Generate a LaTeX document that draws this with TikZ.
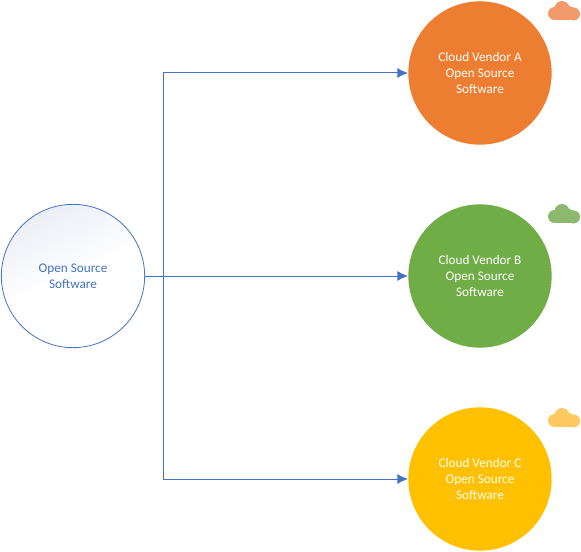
\documentclass[tikz,border=0pt]{standalone}
\usepackage{fontspec}
\setmainfont{Carlito}
\usepackage{xcolor}
\definecolor{linkblue}{HTML}{4472C4}
\definecolor{vendorA}{HTML}{ED7D31}
\definecolor{vendorB}{HTML}{70AD47}
\definecolor{vendorC}{HTML}{FFC000}
\definecolor{cloudA}{HTML}{F29A6B}
\definecolor{cloudB}{HTML}{8DB96F}
\definecolor{cloudC}{HTML}{FFC95F}
\definecolor{sourcetint}{HTML}{ECEEF6}
\usetikzlibrary{arrows.meta}
\tikzset{
  vendor/.style={circle, minimum size=107.5pt, inner sep=0pt, align=center, text=white, font=\fontsize{9.9}{12}\selectfont},
  source/.style={vendor, draw=linkblue, line width=0.6pt, text=linkblue, top color=sourcetint, bottom color=white, middle color=white, shading angle=25},
  link/.style={draw=linkblue, line width=0.75pt, -{Latex[length=8pt,width=7.5pt]}},
  cloudmark/.pic={
    \fill (6.5,12.5) circle (6.5);
    \fill (14,7.5) circle (7.5);
    \fill (21.5,10) circle (5);
    \fill (25.5,13) circle (6.5);
    \fill (6.5,10) rectangle (25.5,19);
  }
}
\begin{document}
\begin{tikzpicture}[x=0.75pt, y=-0.75pt]
  \useasboundingbox (0,0) rectangle (581,552);
  \node[source] (src) at (73,276) {Open Source\\Software};
  \node[vendor, fill=vendorA] (venA) at (480,73) {Cloud Vendor A\\Open Source\\Software};
  \node[vendor, fill=vendorB] (venB) at (480,276) {Cloud Vendor B\\Open Source\\Software};
  \node[vendor, fill=vendorC] (venC) at (480,479) {Cloud Vendor C\\Open Source\\Software};
  \coordinate (bus) at (163,276);
  \draw[link] (src.east) -- (bus) |- (venA.west);
  \draw[link] (src.east) -- (venB.west);
  \draw[link] (src.east) -- (bus) |- (venC.west);
  \pic[fill=cloudA] (markA) at (548,1) {cloudmark};
  \pic[fill=cloudB] (markB) at (548,204) {cloudmark};
  \pic[fill=cloudC] (markC) at (548,408) {cloudmark};
\end{tikzpicture}
\end{document}
